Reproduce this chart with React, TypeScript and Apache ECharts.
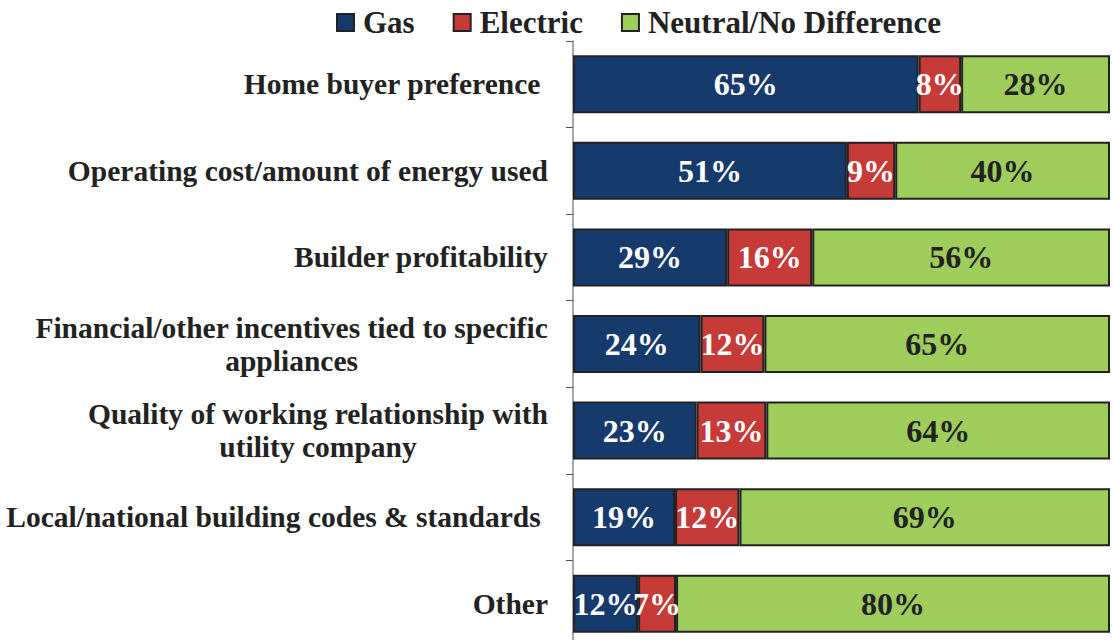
import React, { useEffect, useRef } from "react";
import * as echarts from "echarts";

const categories = [
  "Home buyer preference ",
  "Operating cost/amount of energy used",
  "Builder profitability",
  "Financial/other incentives tied to specific\nappliances",
  "Quality of working relationship with\nutility company",
  "Local/national building codes & standards ",
  "Other",
];
const gas = [65, 51, 29, 24, 23, 19, 12];
const electric = [8, 9, 16, 12, 13, 12, 7];
const neutral = [28, 40, 56, 65, 64, 69, 80];

const seriesNames = ["Gas", "Electric", "Neutral/No Difference"];
const colors = ["#173a6c", "#c63a38", "#9ecd5b"];
const labelColors = ["#ffffff", "#ffffff", "#222222"];

const FONT = "'Liberation Serif', 'Times New Roman', serif";

export default function App() {
  const ref = useRef<HTMLDivElement>(null);
  useEffect(() => {
    if (!ref.current) return;
    const chart = echarts.init(ref.current, undefined, { renderer: "svg" });
    const raw = [gas, electric, neutral];
    const totals = categories.map((_, i) => gas[i] + electric[i] + neutral[i]);
    const series = raw.map((arr, s) => ({
      name: seriesNames[s],
      type: "bar",
      stack: "total",
      barWidth: 58,
      data: arr.map((v, i) => (v / totals[i]) * 100),
      itemStyle: { color: colors[s], borderColor: "#222", borderWidth: 2 },
      label: {
        show: true,
        position: "inside",
        formatter: (p: any) => raw[s][p.dataIndex] + "%",
        color: labelColors[s],
        fontFamily: FONT,
        fontWeight: "bold",
        fontSize: 32,
      },
    }));
    chart.setOption({
      animation: false,
      legend: {
        top: 2,
        left: 331,
        itemWidth: 17,
        itemHeight: 17,
        itemGap: 38,
        icon: "rect",
        textStyle: {
          fontFamily: FONT,
          fontWeight: "bold",
          fontSize: 31,
          color: "#222",
          padding: [0, 0, 0, 4],
        },
        data: seriesNames,
      },
      grid: { left: 573, right: 4, top: 41, bottom: 0 },
      xAxis: { type: "value", min: 0, max: 100, show: false },
      yAxis: {
        type: "category",
        inverse: true,
        data: categories,
        axisLine: { show: true, lineStyle: { color: "#888", width: 1.5 } },
        axisTick: { show: true, length: 7, lineStyle: { color: "#555" } },
        axisLabel: {
          margin: 25,
          fontFamily: FONT,
          fontWeight: "bold",
          fontSize: 29.5,
          color: "#222",
          lineHeight: 33,
          formatter: (v: string) =>
            v
              .split("\n")
              .map((l) => "{c|" + l + "}")
              .join("\n"),
          rich: {
            c: {
              align: "center",
              fontFamily: FONT,
              fontWeight: "bold",
              fontSize: 29.5,
              color: "#222",
              lineHeight: 33,
            },
          },
        },
      },
      series,
    });
    return () => chart.dispose();
  }, []);
  return (
    <div
      style={{
        position: "absolute",
        left: 0,
        top: 0,
        width: 1114,
        height: 640,
        overflow: "hidden",
      }}
    >
      <div ref={ref} style={{ width: 1114, height: 647 }} />
    </div>
  );
}
